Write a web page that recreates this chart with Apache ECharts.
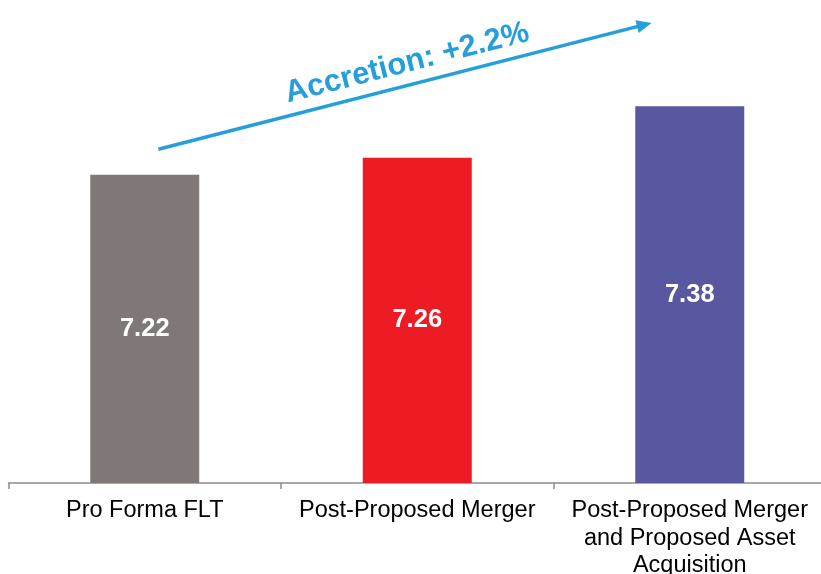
<!DOCTYPE html>
<html>
<head>
<meta charset="utf-8">
<script src="https://cdn.jsdelivr.net/npm/echarts@6/dist/echarts.min.js"></script>
<style>
html,body{margin:0;padding:0;background:#fff;}
#main{width:821px;height:574px;}
</style>
</head>
<body>
<div id="main"></div>
<script>
const categories = ['Pro Forma FLT', 'Post-Proposed Merger', 'Post-Proposed Merger\nand Proposed Asset\nAcquisition'];
const values = [7.22, 7.26, 7.38];
const barColors = ['#807877', '#ED1C24', '#5A57A1'];
const annotationText = 'Accretion: +2.2%';
// annotation anchors in data space: [category position, value]
const arrowStart = [0.05, 7.28];
const arrowEnd = [1.86, 7.575];
const textAnchor = [0.963, 7.481];

const chart = echarts.init(document.getElementById('main'), null, {renderer: 'canvas'});
const font = "'Liberation Sans', Arial, sans-serif";
chart.setOption({
  animation: false,
  grid: {left: 8.5, width: 817.5, top: 55, bottom: 91, containLabel: false, outerBoundsMode: 'none'},
  xAxis: {
    type: 'category',
    data: categories,
    axisLine: {lineStyle: {color: '#8C8C8C', width: 1.5}},
    axisTick: {show: true, length: 6, lineStyle: {color: '#8C8C8C', width: 1.5}},
    axisLabel: {interval: 0, fontSize: 23.5, lineHeight: 27.5, color: '#000', margin: 14, fontFamily: font}
  },
  yAxis: {type: 'value', min: 6.5, max: 7.5, show: false, splitLine: {show: false}},
  series: [{
    type: 'bar',
    barWidth: 109,
    data: values.map((v, i) => ({value: v, itemStyle: {color: barColors[i]}})),
    label: {show: true, position: 'inside', color: '#fff', fontWeight: 'bold', fontSize: 25.5, fontFamily: font,
      formatter: p => p.value.toFixed(2)}
  }]
});

function toPx(pt) {
  const i = Math.floor(pt[0]);
  const f = pt[0] - i;
  const a = chart.convertToPixel({gridIndex: 0}, [i, pt[1]]);
  const b = chart.convertToPixel({gridIndex: 0}, [i + 1, pt[1]]);
  return [a[0] + f * (b[0] - a[0]), a[1]];
}
const s = toPx(arrowStart), e = toPx(arrowEnd), t = toPx(textAnchor);
const dx = e[0] - s[0], dy = e[1] - s[1];
const len = Math.sqrt(dx * dx + dy * dy);
const ux = dx / len, uy = dy / len;
const headLen = 15, headHalf = 6.5;
const bx = e[0] - ux * headLen, by = e[1] - uy * headLen;
const nx = -uy, ny = ux;
const angle = Math.atan2(-dy, dx);
const blue = '#259FDB';
chart.setOption({
  graphic: [
    {type: 'line', shape: {x1: s[0], y1: s[1], x2: bx + ux * 2, y2: by + uy * 2}, style: {stroke: blue, lineWidth: 3.6}},
    {type: 'polygon', shape: {points: [[e[0], e[1]], [bx + nx * headHalf, by + ny * headHalf], [bx - nx * headHalf, by - ny * headHalf]]}, style: {fill: blue}},
    {type: 'text', x: t[0], y: t[1], rotation: angle, style: {text: annotationText, fill: blue, font: "bold 31px 'Liberation Sans', Arial, sans-serif", align: 'center', verticalAlign: 'middle'}}
  ]
});
</script>
</body>
</html>
